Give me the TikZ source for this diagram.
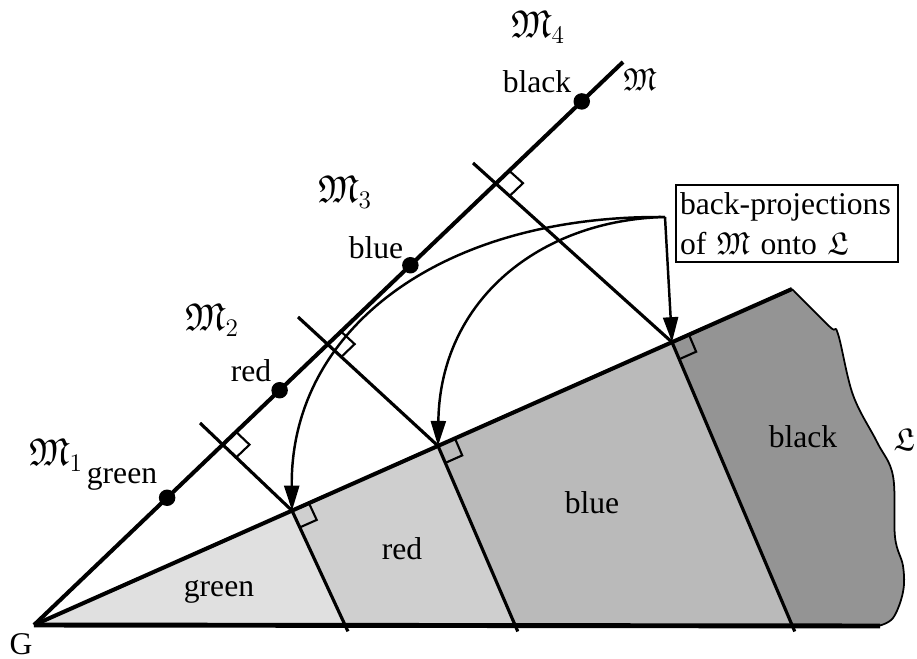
\documentclass[tikz,border=0pt]{standalone}
\usepackage{fontspec}
\setmainfont{Liberation Serif}
\usepackage{amssymb}
\usetikzlibrary{arrows.meta,positioning,calc}

\begin{document}
\begin{tikzpicture}[
  x=0.02cm, y=-0.02cm,
  lbl/.style={font=\fontsize{18}{22.5}\selectfont, inner sep=0pt},
  mlbl/.style={font=\fontsize{22}{24}\selectfont, inner sep=0pt},
  axis/.style={line width=2.3pt},
  perp/.style={line width=1.8pt},
  sq/.style={line width=1.2pt},
  dot/.style={circle, fill, inner sep=0pt, minimum size=0.33cm},
  arr/.style={-{Triangle[length=5mm, width=3mm]}, line width=1.4pt}
]
  \useasboundingbox (0,0) rectangle (917,659);
  % the lines M and L, and the ground
  \coordinate (G) at (34,625);
  \coordinate (Mend) at (623,62);
  \coordinate (Lend) at (792,289);
  \coordinate (Bend) at (880,626);
  % feet on L, feet on the ground, ticks across M
  \coordinate (F1) at ($(G)!0.3404!(Lend)$);
  \coordinate (F2) at ($(G)!0.533!(Lend)$);
  \coordinate (F3) at ($(G)!0.8417!(Lend)$);
  \coordinate (B1) at (345,625);
  \coordinate (B2) at (515,625);
  \coordinate (B3) at (792,625);
  \coordinate (T1) at (200,423);
  \coordinate (T2) at (298,317);
  \coordinate (T3) at (473,163);
  \coordinate (C1) at (intersection of G--Mend and T1--F1);
  \coordinate (C2) at (intersection of G--Mend and T2--F2);
  \coordinate (C3) at (intersection of G--Mend and T3--F3);

  % shaded pieces of L
  \fill[black!12] (G) -- (F1) -- (B1) -- cycle;
  \fill[black!19] (F1) -- (F2) -- (B2) -- (B1) -- cycle;
  \fill[black!27] (F2) -- (F3) -- (B3) -- (B2) -- cycle;
  \fill[black!42] (F3) -- (Lend) -- plot[smooth, tension=0.6] coordinates {(Lend) (830,327) (838,334) (853,395) (877,442) (893,476) (895,537) (903,566) (903,592) (893,618) (878,626)} -- (B3) -- cycle;
  \draw[line width=1pt] plot[smooth, tension=0.6] coordinates {(Lend) (830,327) (838,334) (853,395) (877,442) (893,476) (895,537) (903,566) (903,592) (893,618) (878,626)};

  \draw[axis] (G) -- (Mend);
  \draw[axis] (G) -- (Lend);
  \draw[axis, line width=2.8pt] (G) -- (Bend);
  \foreach \i in {1,2,3} {
    \draw[perp] (T\i) -- (F\i);
    \draw[perp, shorten >=-4pt] (F\i) -- (B\i);
  }
  % right angles
  \foreach \c/\a/\b in {C1/Mend/F1, C2/Mend/F2, C3/Mend/F3, F1/Lend/B1, F2/Lend/B2, F3/Lend/B3}
    \draw[sq] ($(\c)!0.37cm!(\a)$) -- ++($(\c)!0.37cm!(\b)-(\c)$) -- ($(\c)!0.37cm!(\b)$);

  % points on M
  \node[dot] (dgreen) at ($(G)!0.226!(Mend)$) {};
  \node[dot] (dred) at ($(G)!0.417!(Mend)$) {};
  \node[dot] (dblue) at ($(G)!0.639!(Mend)$) {};
  \node[dot] (dblack) at ($(G)!0.930!(Mend)$) {};
  \node[lbl] (lgreen) at (122,479) {green};
  \node[lbl] (lred) at (251,371) {red};
  \node[lbl] (lblue) at (376,248) {blue};
  \node[lbl] (lblack) at (537,82) {black};
  \node[mlbl] (m1) at (56,455) {$\mathfrak{M}_1$};
  \node[mlbl] (m2) at (212,320) {$\mathfrak{M}_2$};
  \node[mlbl] (m3) at (345,192) {$\mathfrak{M}_3$};
  \node[mlbl] (m4) at (538,27) {$\mathfrak{M}_4$};
  \node[lbl] (mname) at (640,80) {$\mathfrak{M}$};
  \node[lbl, anchor=east] (lname) at (915,440) {$\mathfrak{L}$};
  \node[lbl] (gname) at (21,644) {G};

  % pieces of L
  \node[lbl] (rgreen) at (219,592) {green};
  \node[lbl] (rred) at (402,549) {red};
  \node[lbl] (rblue) at (592,503) {blue};
  \node[lbl] (rblack) at (803,437) {black};

  % back-projections
  \node[lbl, draw, line width=1.3pt, align=left, text width=4.28cm,
        inner xsep=0.08cm, minimum height=1.54cm] (bp) at (787,223.5)
    {back-projections\\of $\mathfrak{M}$ onto $\mathfrak{L}$};
  \coordinate (S) at (665,217);
  \draw[arr] (S) .. controls (440,215) and (290,330) .. (F1);
  \draw[arr] (S) .. controls (540,220) and (440,300) .. (F2);
  \draw[arr] (S) -- (F3);
\end{tikzpicture}
\end{document}
